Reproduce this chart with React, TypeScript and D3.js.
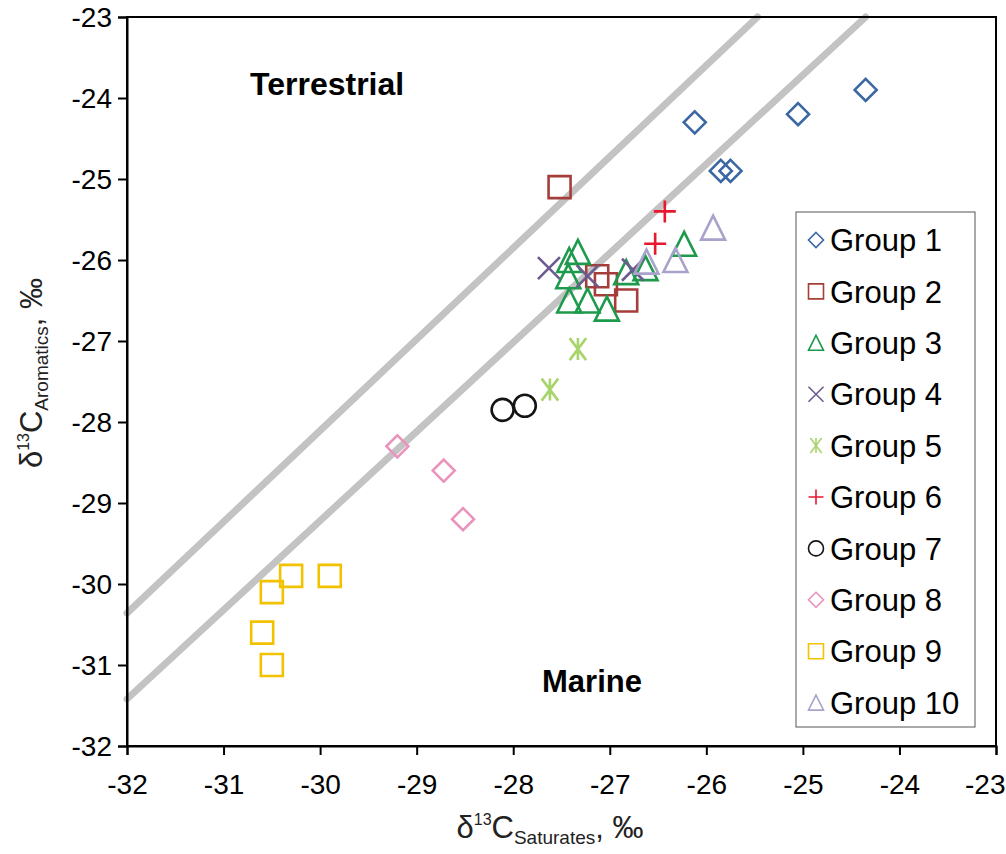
import React, { useEffect, useRef } from 'react';
import * as d3 from 'd3';

// series data: [saturates, aromatics]
const groupNames = ["Group 1", "Group 2", "Group 3", "Group 4", "Group 5", "Group 6", "Group 7", "Group 8", "Group 9", "Group 10"];
const groupColors = ["#3B67A3", "#A53E3B", "#1E9A4C", "#6B5B8F", "#A8D46C", "#E8182E", "#141414", "#EA93BC", "#F2C200", "#A9A2CB"];
const groupShapes = ["diamond", "square", "triangle", "cross", "star", "plus", "circle", "diamond", "square", "triangle"];

const group1 = [[-24.35, -23.9], [-25.05, -24.2], [-26.12, -24.3], [-25.85, -24.9], [-25.75, -24.9]];
const group2 = [[-27.52, -25.1], [-27.13, -26.2], [-27.04, -26.3], [-26.83, -26.5]];
const group3 = [[-27.33, -25.9], [-27.42, -26.0], [-27.43, -26.2], [-27.42, -26.5], [-27.23, -26.5], [-27.03, -26.6], [-26.83, -26.15], [-26.63, -26.1], [-26.23, -25.8]];
const group4 = [[-27.63, -26.1], [-27.23, -26.2], [-26.76, -26.12]];
const group5 = [[-27.33, -27.1], [-27.62, -27.6]];
const group6 = [[-26.43, -25.4], [-26.53, -25.8]];
const group7 = [[-28.11, -27.85], [-27.88, -27.8]];
const group8 = [[-29.2, -28.3], [-28.72, -28.6], [-28.52, -29.2]];
const group9 = [[-30.3, -29.9], [-29.9, -29.9], [-30.5, -30.1], [-30.6, -30.6], [-30.5, -31.0]];
const group10 = [[-25.93, -25.6], [-26.62, -26.02], [-26.32, -26.0]];
const groups = [group1, group2, group3, group4, group5, group6, group7, group8, group9, group10];

// the two grey dividing lines (end points)
const line1 = [[-32, -30.36], [-25.47, -23]];
const line2 = [[-32, -31.42], [-24.35, -23]];

const xTicks = [-32, -31, -30, -29, -28, -27, -26, -25, -24, -23];
const yTicks = [-32, -31, -30, -29, -28, -27, -26, -25, -24, -23];

const W = 1006, H = 854;
const left = 127, right = 996, top = 17, bottom = 746;
const font = "'Liberation Sans', Arial, sans-serif";

function markerPath(shape: string, s: number) {
  const h = s / 2;
  switch (shape) {
    case "diamond": return `M0,${-h}L${h},0L0,${h}L${-h},0Z`;
    case "square": return `M${-h},${-h}H${h}V${h}H${-h}Z`;
    case "triangle": return `M0,${-h}L${h},${h}L${-h},${h}Z`;
    case "cross": return `M${-h},${-h}L${h},${h}M${-h},${h}L${h},${-h}`;
    case "plus": return `M${-h},0H${h}M0,${-h}V${h}`;
    case "star": return `M${-h * 0.75},${-h}L${h * 0.75},${h}M${-h * 0.75},${h}L${h * 0.75},${-h}M0,${-h}V${h}`;
    case "circle": return `M${h},0A${h},${h} 0 1,1 ${-h},0A${h},${h} 0 1,1 ${h},0Z`;
  }
  return "";
}

export default function App() {
  const ref = useRef<SVGSVGElement>(null);

  useEffect(() => {
    const svg = d3.select(ref.current);
    svg.selectAll("*").remove();

    const x = d3.scaleLinear().domain([-32, -23]).range([left, right]);
    const y = d3.scaleLinear().domain([-32, -23]).range([bottom, top]);

    // grey lines
    const line = d3.line<number[]>().x(d => x(d[0])).y(d => y(d[1]));
    [line1, line2].forEach(l => {
      svg.append("path")
        .attr("d", line(l))
        .attr("fill", "none")
        .attr("stroke", "#C3C3C3")
        .attr("stroke-width", 7)
        .attr("stroke-linecap", "round");
    });

    // frame
    svg.append("rect")
      .attr("x", left).attr("y", top)
      .attr("width", right - left).attr("height", bottom - top)
      .attr("fill", "none").attr("stroke", "#000").attr("stroke-width", 2);

    // axes
    const xAxis = svg.append("g")
      .attr("transform", `translate(0,${bottom})`)
      .call(d3.axisBottom(x).tickValues(xTicks).tickSize(9).tickFormat(d => String(d)));
    const yAxis = svg.append("g")
      .attr("transform", `translate(${left},0)`)
      .call(d3.axisLeft(y).tickValues(yTicks).tickSize(9).tickFormat(d => String(d)));
    [xAxis, yAxis].forEach(a => {
      a.select(".domain").attr("stroke-width", 2);
      a.selectAll(".tick line").attr("stroke-width", 2);
      a.selectAll(".tick text")
        .attr("font-family", font).attr("font-size", 28).attr("fill", "#000");
    });
    xAxis.selectAll(".tick text").attr("dy", 0).attr("y", 48);
    // keep the last label inside the page
    xAxis.selectAll<SVGTextElement, number>(".tick text")
      .filter(d => d === -23)
      .attr("text-anchor", "end").attr("x", 9);
    yAxis.selectAll(".tick text").attr("x", -15).attr("dy", "0.35em");

    // region labels
    svg.append("text").attr("x", 250).attr("y", 95)
      .attr("font-family", font).attr("font-weight", "bold").attr("font-size", 32)
      .text("Terrestrial");
    svg.append("text").attr("x", 542).attr("y", 692)
      .attr("font-family", font).attr("font-weight", "bold").attr("font-size", 31)
      .text("Marine");

    // points
    groups.forEach((pts, i) => {
      svg.append("g").selectAll("path")
        .data(pts)
        .enter()
        .append("path")
        .attr("transform", d => `translate(${x(d[0])},${y(d[1])})`)
        .attr("d", markerPath(groupShapes[i], groupShapes[i] === "triangle" ? 24 : 22))
        .attr("fill", "none")
        .attr("stroke", groupColors[i])
        .attr("stroke-width", 2.6);
    });

    // legend
    const lg = svg.append("g");
    lg.append("rect").attr("x", 796).attr("y", 212).attr("width", 179).attr("height", 515)
      .attr("fill", "#fff").attr("stroke", "#555").attr("stroke-width", 1);
    groupNames.forEach((name, i) => {
      const cy = 240 + i * 51.4;
      lg.append("path")
        .attr("transform", `translate(816,${cy})`)
        .attr("d", markerPath(groupShapes[i], 15))
        .attr("fill", "none").attr("stroke", groupColors[i]).attr("stroke-width", 1.6);
      lg.append("text").attr("x", 830).attr("y", cy).attr("dy", "0.36em")
        .attr("font-family", font).attr("font-size", 31).text(name);
    });

    // axis titles
    const xt = svg.append("text").attr("x", 550).attr("y", 838)
      .attr("text-anchor", "middle").attr("font-family", font).attr("font-size", 31).attr("fill", "#222");
    xt.append("tspan").text("δ");
    xt.append("tspan").attr("font-size", 16).attr("dy", -13).text("13");
    xt.append("tspan").attr("dy", 13).text("C");
    xt.append("tspan").attr("font-size", 19).attr("dy", 6).text("Saturates");
    xt.append("tspan").attr("dy", -6).text(", ‰");

    const yt = svg.append("text").attr("transform", "translate(42,373) rotate(-90)")
      .attr("text-anchor", "middle").attr("font-family", font).attr("font-size", 31).attr("fill", "#222");
    yt.append("tspan").text("δ");
    yt.append("tspan").attr("font-size", 16).attr("dy", -13).text("13");
    yt.append("tspan").attr("dy", 13).text("C");
    yt.append("tspan").attr("font-size", 19).attr("dy", 6).text("Aromatics");
    yt.append("tspan").attr("dy", -6).text(", ‰");
  }, []);

  return (
    <svg ref={ref} width={W} height={H} style={{ position: "absolute", left: 0, top: 0, background: "#fff" }} />
  );
}
